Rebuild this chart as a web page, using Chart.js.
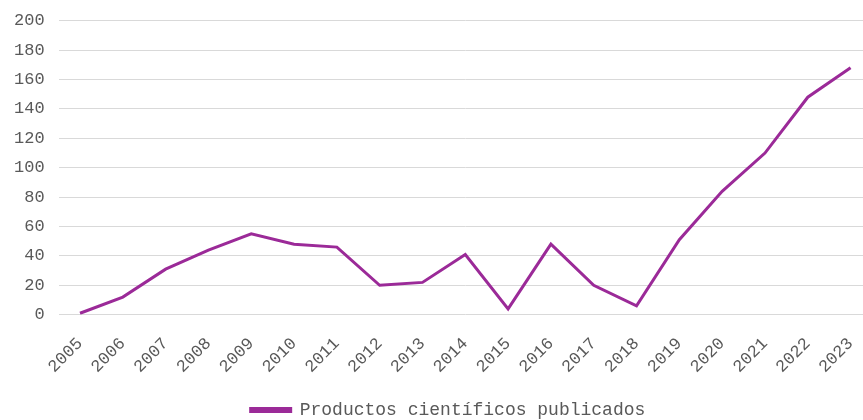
<!DOCTYPE html>
<html>
<head>
<meta charset="utf-8">
<script src="https://cdn.jsdelivr.net/npm/chart.js@4/dist/chart.umd.min.js"></script>
<style>
  html, body { margin: 0; padding: 0; background: #fff; overflow: hidden; }
  #wrap { width: 876px; height: 429px; position: relative; }
</style>
</head>
<body>
<div id="wrap"><canvas id="myChart"></canvas></div>
<script>
const years = ['2005','2006','2007','2008','2009','2010','2011','2012','2013','2014',
               '2015','2016','2017','2018','2019','2020','2021','2022','2023'];
const productos = [1, 12, 31, 44, 55, 48, 46, 20, 22, 41, 4, 48, 20, 6, 51, 84, 110, 148, 168];
const seriesName = 'Productos científicos publicados';
const lineColor = '#9b2a98';

Chart.defaults.font.family = '"Liberation Mono", "DejaVu Sans Mono", monospace';
Chart.defaults.font.size = 17;
Chart.defaults.color = '#595959';

// draw the legend a little to the right, like the original
const legendShift = {
  id: 'legendShift',
  afterUpdate(chart) {
    const lg = chart.legend;
    if (lg && !lg._shifted) {
      const orig = lg.draw.bind(lg);
      lg.draw = function () {
        chart.ctx.save();
        chart.ctx.translate(10, 0);
        orig();
        chart.ctx.restore();
      };
      lg._shifted = true;
    }
  }
};

new Chart(document.getElementById('myChart'), {
  type: 'line',
  data: {
    labels: years,
    datasets: [{
      label: seriesName,
      data: productos,
      borderColor: lineColor,
      backgroundColor: lineColor,
      borderWidth: 3,
      pointRadius: 0,
      fill: false,
      tension: 0
    }]
  },
  options: {
    responsive: true,
    maintainAspectRatio: false,
    animation: false,
    layout: { padding: { top: 0, right: 0, left: 0, bottom: 0 } },
    plugins: {
      legend: {
        position: 'bottom',
        labels: { boxWidth: 40, boxHeight: 3, padding: 13, font: { size: 18 } }
      },
      tooltip: { enabled: false }
    },
    scales: {
      x: {
        offset: true,
        grid: { display: false },
        border: { display: false },
        ticks: { maxRotation: 45, minRotation: 45, autoSkip: false, padding: 11 }
      },
      y: {
        min: 0,
        max: 200,
        ticks: { stepSize: 20, padding: 14, font: { lineHeight: 0.8 } },
        grid: { color: '#d9d9d9', drawTicks: false, lineWidth: 1 },
        border: { display: false }
      }
    }
  },
  plugins: [legendShift]
});
</script>
</body>
</html>
